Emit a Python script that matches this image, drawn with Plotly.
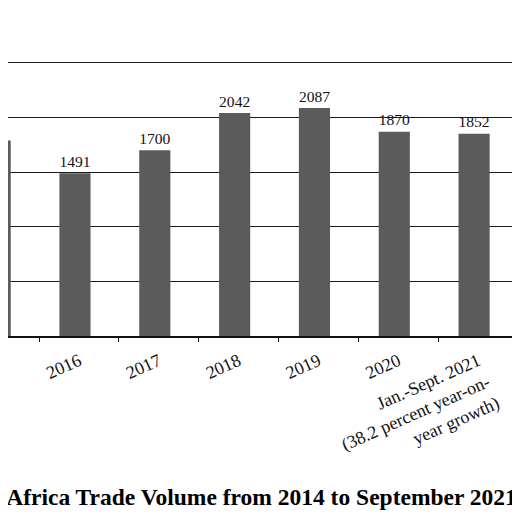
import plotly.graph_objects as go

categories = ["2015", "2016", "2017", "2018", "2019", "2020",
              "Jan.-Sept. 2021<br>(38.2 percent year-on-<br>year growth)"]
values = [1790, 1491, 1700, 2042, 2087, 1870, 1852]
labels = ["1790", "1491", "1700", "2042", "2087", "1870", "1852"]
title_text = "China-Africa Trade Volume from 2014 to September 2021"

serif = "Liberation Serif, Times New Roman, serif"

fig = go.Figure()
fig.add_trace(go.Bar(
    x=categories, y=values, text=labels,
    textposition="outside", cliponaxis=False,
    textfont=dict(family=serif, size=19, color="#111"),
    marker=dict(color="#5b5b5b", line=dict(width=0)),
    width=0.39, offset=-0.245,
))

fig.update_layout(
    width=512, height=512,
    margin=dict(l=0, r=2, t=44, b=184),
    plot_bgcolor="white", paper_bgcolor="white",
    showlegend=False,
    xaxis=dict(
        type="category", range=[0.111, 6.5],
        showline=True, linecolor="#111", linewidth=1.5,
        ticks="outside", tickson="boundaries", ticklen=4, tickcolor="#111",
        tickangle=-24, showgrid=False, ticklabelstandoff=6,
        tickfont=dict(family=serif, size=18, color="#111"),
    ),
    yaxis=dict(
        range=[0, 2600], dtick=500, showgrid=True, gridcolor="#1a1a1a",
        gridwidth=1, showticklabels=False, zeroline=False, showline=False,
    ),
    annotations=[dict(
        text="<b>" + title_text + "</b>", xref="paper", yref="paper",
        x=1.002, y=-0.567, xanchor="right", yanchor="middle",
        showarrow=False, font=dict(family=serif, size=23.5, color="#000"),
    )],
)

fig.write_html("out.html")
